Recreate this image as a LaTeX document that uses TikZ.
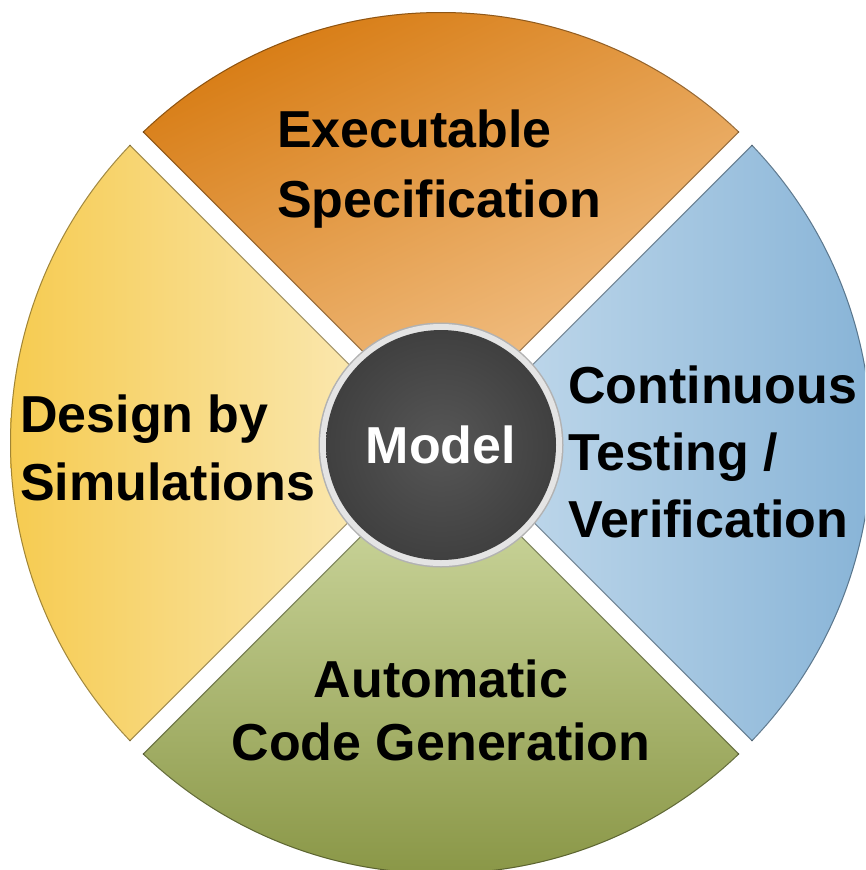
\documentclass[tikz,border=0pt]{standalone}
\usepackage{fontspec}
\setmainfont{Liberation Sans}
\begin{document}
\begin{tikzpicture}[x=1pt,y=-1pt,
  lbl/.style={inner sep=0pt, font=\bfseries\fontsize{52}{68}\selectfont, text=black},
  rim/.style={draw=black, draw opacity=0.35, line width=2pt}]
\definecolor{orD}{HTML}{D5760A}
\definecolor{orL}{HTML}{F8D1A2}
\definecolor{yeD}{HTML}{F6CB50}
\definecolor{yeL}{HTML}{FBEEC6}
\definecolor{blD}{HTML}{88B4D7}
\definecolor{blL}{HTML}{C9DEEE}
\definecolor{grD}{HTML}{8A9747}
\definecolor{grL}{HTML}{D6E0AA}
\definecolor{ringc}{HTML}{E4E4E4}
\useasboundingbox (0,0) rectangle (865,870);
\clip (0,0) rectangle (865,870);
\coordinate (C) at (441,443);
% top (orange)
\begin{scope}
  \clip (441,430.3) -- ++(-700,-700) -- ++(1400,0) -- cycle;
  \clip (C) circle [radius=431pt];
  \shade[top color=orD, bottom color=orL, shading angle=25] (0,12) rectangle (882,443);
  \draw[rim] (441,430.3) -- ++(-700,-700) -- ++(1400,0) -- cycle;
  \draw[rim] (C) circle [radius=431pt];
\end{scope}
% left (yellow)
\begin{scope}
  \clip (428.3,443) -- ++(-700,-700) -- ++(0,1400) -- cycle;
  \clip (C) circle [radius=431pt];
  \shade[left color=yeD, right color=yeL] (10,0) rectangle (441,870);
  \draw[rim] (428.3,443) -- ++(-700,-700) -- ++(0,1400) -- cycle;
  \draw[rim] (C) circle [radius=431pt];
\end{scope}
% right (blue)
\begin{scope}
  \clip (453.7,443) -- ++(700,-700) -- ++(0,1400) -- cycle;
  \clip (C) circle [radius=431pt];
  \shade[left color=blL, right color=blD] (441,0) rectangle (872,870);
  \draw[rim] (453.7,443) -- ++(700,-700) -- ++(0,1400) -- cycle;
  \draw[rim] (C) circle [radius=431pt];
\end{scope}
% bottom (green)
\begin{scope}
  \clip (441,455.7) -- ++(-700,700) -- ++(1400,0) -- cycle;
  \clip (C) circle [radius=431pt];
  \shade[top color=grL, bottom color=grD] (0,443) rectangle (882,874);
  \draw[rim] (441,455.7) -- ++(-700,700) -- ++(1400,0) -- cycle;
  \draw[rim] (C) circle [radius=431pt];
\end{scope}
% hub
\fill[gray!60] (441,445) circle [radius=122.5pt];
\fill[ringc] (441,445) circle [radius=121pt];
\shade[inner color=black!66, outer color=black!75] (441,445) circle [radius=115pt];
\node[lbl, text=white, anchor=base] (model) at (441,463) {Model};
% labels (anchor base = baseline of last line)
\node[lbl, align=left, anchor=base west, font=\bfseries\fontsize{52}{70}\selectfont] (exec) at (277,217) {Executable\\Specification};
\node[lbl, align=left, anchor=base west] (design) at (20,500) {Design by\\Simulations};
\node[lbl, align=left, anchor=base west, font=\bfseries\fontsize{52}{67}\selectfont] (test) at (568,537) {Continuous\\Testing /\\Verification};
\node[lbl, align=center, anchor=base, font=\bfseries\fontsize{52}{63}\selectfont] (code) at (441,760) {Automatic\\Code Generation};
\end{tikzpicture}
\end{document}
